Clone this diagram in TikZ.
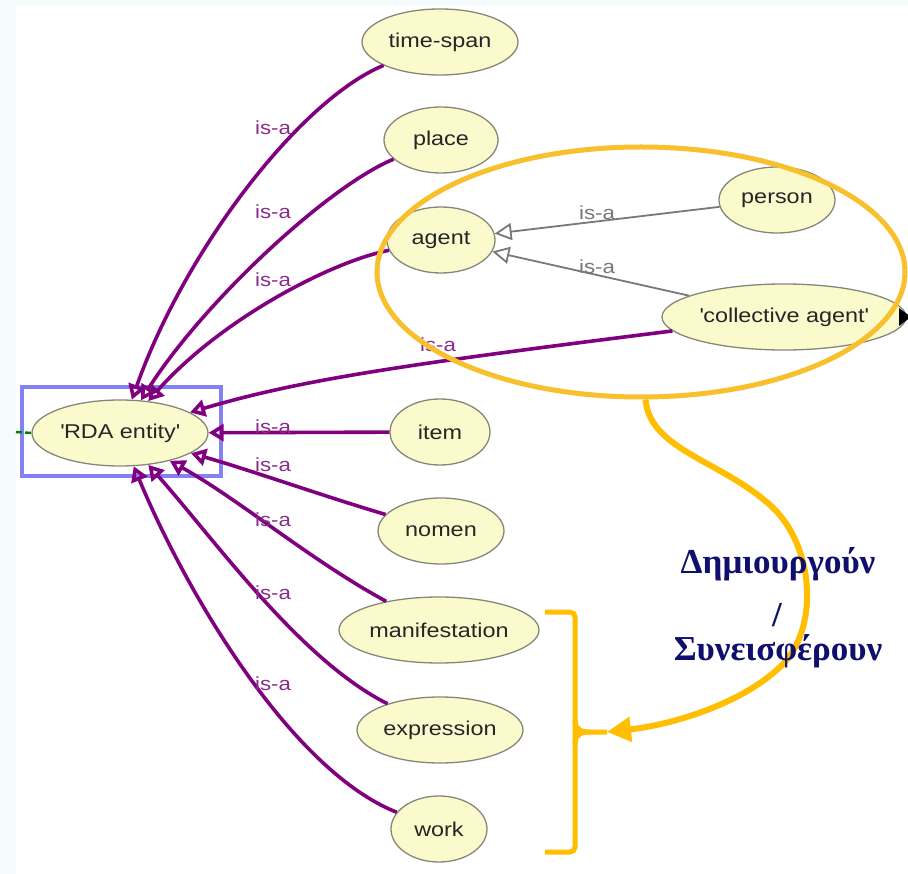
\documentclass[tikz,border=0pt]{standalone}
\usepackage{fontspec}
\setmainfont{Liberation Sans}
\newfontfamily\nodefont[FakeStretch=1.17]{Liberation Sans}
\newfontfamily\grkfont{Liberation Serif}
\usetikzlibrary{shapes.geometric,arrows.meta}
\definecolor{isapurple}{RGB}{128,0,128}
\definecolor{labpurple}{RGB}{138,45,138}
\definecolor{nodefill}{RGB}{250,250,205}
\definecolor{nodeborder}{RGB}{135,135,120}
\definecolor{selblue}{RGB}{130,130,245}
\definecolor{hlgold}{RGB}{248,192,45}
\definecolor{hlgoldb}{RGB}{255,190,0}
\definecolor{navytext}{RGB}{15,15,110}
\definecolor{bgstrip}{RGB}{245,250,251}
\definecolor{subgray}{RGB}{120,120,120}
\begin{document}
\begin{tikzpicture}[x=1pt,y=-1pt,
  concept/.style={ellipse, draw=nodeborder, line width=1.3pt, fill=nodefill, inner sep=0pt,
    minimum height=66pt, font=\nodefont\fontsize{20}{24}\selectfont, text=black!85},
  isa/.style={draw=isapurple, line width=3.6pt, -{Triangle[open,length=15pt,width=17pt]}},
  isalab/.style={text=labpurple, inner sep=0pt, font=\nodefont\fontsize{19}{22}\selectfont},
  subisa/.style={draw=subgray, line width=1.8pt, -{Triangle[open,length=17pt,width=17pt]}},
  sublab/.style={text=subgray, inner sep=0pt, font=\nodefont\fontsize{19}{22}\selectfont},
  bracket/.style={draw=hlgoldb, line width=5pt},
  grk/.style={text=navytext, inner sep=0pt, anchor=base, font=\grkfont\bfseries\fontsize{35}{40}\selectfont}
]
\useasboundingbox (0,0) rectangle (908,874);
\fill[white] (0,0) rectangle (908,874);
\fill[bgstrip] (0,0) rectangle (908,6);
\fill[bgstrip] (0,0) rectangle (16,874);

% selection rectangle
\node[draw=selblue, line width=4pt, minimum width=199pt, minimum height=89pt, inner sep=0pt] (sel) at (121.5,431.5) {};

% nodes
\node[concept, minimum width=156pt] (ts) at (440,42) {time-span};
\node[concept, minimum width=114pt] (place) at (441,140) {place};
\node[concept, minimum width=108pt] (agent) at (441,240) {agent};
\node[concept, minimum width=116pt] (person) at (777,200) {person};
\node[concept, minimum width=244pt] (coll) at (784,317) {\textquotesingle collective agent\textquotesingle};
\node[concept, minimum width=176pt] (rda) at (120,433) {\textquotesingle RDA entity\textquotesingle};
\node[concept, minimum width=100pt] (item) at (440,432) {item};
\node[concept, minimum width=126pt] (nomen) at (441,531) {nomen};
\node[concept, minimum width=200pt] (man) at (439,630) {manifestation};
\node[concept, minimum width=166pt] (expr) at (440,730) {expression};
\node[concept, minimum width=96pt] (work) at (439,829) {work};

% small black marker at right of collective agent
\fill[black] (899,308) -- (911,317) -- (899,326) -- cycle;

% green stub
\coordinate (gl) at (16,432);
\draw[green!50!black, line width=2.5pt, dash pattern=on 6pt off 3pt] (gl) -- (rda.west);

% is-a edges to RDA entity
\draw[isa] (ts) .. controls (300,100) and (185,250) .. (rda);
\draw[isa] (place) .. controls (330,185) and (205,300) .. (rda);
\draw[isa] (agent) .. controls (330,262) and (220,320) .. (rda);
\draw[isa] (coll) .. controls (400,365) and (300,380) .. (rda);
\draw[isa] (item) -- (rda);
\draw[isa] (nomen) .. controls (320,495) and (250,470) .. (rda);
\draw[isa] (man) .. controls (310,560) and (240,500) .. (rda);
\draw[isa] (expr) .. controls (300,660) and (215,540) .. (rda);
\draw[isa] (work) .. controls (290,770) and (185,590) .. (rda);

% sub edges to agent
\draw[subisa] (person) -- (agent);
\draw[subisa] (coll) -- (agent);

% labels
\node[isalab] (l1) at (273,128) {is-a};
\node[isalab] (l2) at (273,212) {is-a};
\node[isalab] (l3) at (273,280) {is-a};
\node[isalab] (l4) at (438,345) {is-a};
\node[isalab] (l5) at (273,427) {is-a};
\node[isalab] (l6) at (273,465) {is-a};
\node[isalab] (l7) at (273,520) {is-a};
\node[isalab] (l8) at (273,593) {is-a};
\node[isalab] (l9) at (273,684) {is-a};
\node[sublab] (l10) at (597,213) {is-a};
\node[sublab] (l11) at (597,267) {is-a};

% highlight ellipse
\node[ellipse, draw=hlgold, line width=5pt, minimum width=528pt, minimum height=250pt, inner sep=0pt] (grp) at (641,272) {};

% bracket
\coordinate (bt) at (607,732);
\draw[bracket, rounded corners=5pt] (545,612) -- (575,612) -- (575,732) -- (575,852) -- (545,852);
\draw[bracket] (575,720) .. controls (575,729) and (580,732) .. (590,732) -- (bt);
\draw[bracket] (575,744) .. controls (575,735) and (580,732) .. (590,732);

% curved arrow
\draw[draw=hlgoldb, line width=6pt, -{Triangle[length=24pt,width=24pt]}]
  (grp.-88) .. controls (650,450) and (720,460) .. (770,505)
  .. controls (815,545) and (820,630) .. (780,667)
  .. controls (740,705) and (670,725) .. (bt);

% greek text
\node[grk] (g1) at (778,573) {Δημιουργούν};
\node[grk] (g2) at (777,626) {/};
\node[grk] (g3) at (778,660) {Συνεισφέρουν};
\end{tikzpicture}
\end{document}
